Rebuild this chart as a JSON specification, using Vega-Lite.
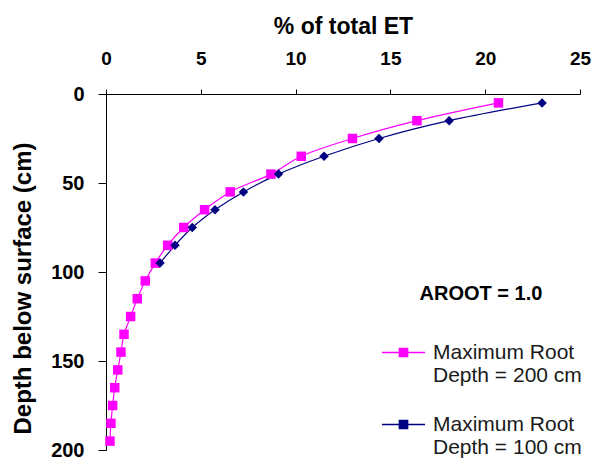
{
  "$schema": "https://vega.github.io/schema/vega-lite/v6.json",
  "width": 474,
  "height": 356,
  "autosize": {"type": "none"},
  "padding": {"left": 106, "top": 94, "right": 12, "bottom": 8},
  "background": "white",
  "config": {
    "view": {"stroke": null},
    "font": "Liberation Sans",
    "axis": {
      "domainColor": "#000000",
      "tickColor": "#000000",
      "labelColor": "#000000",
      "titleColor": "#000000",
      "grid": false,
      "labelFont": "Liberation Sans",
      "titleFont": "Liberation Sans",
      "labelFontWeight": "bold",
      "titleFontWeight": "bold"
    }
  },
  "data": {
    "values": [
      {"series": "Maximum Root\nDepth = 200 cm", "maxDepth": 200, "depth": 5, "pct": 20.7},
      {"series": "Maximum Root\nDepth = 200 cm", "maxDepth": 200, "depth": 15, "pct": 16.4},
      {"series": "Maximum Root\nDepth = 200 cm", "maxDepth": 200, "depth": 25, "pct": 13.0},
      {"series": "Maximum Root\nDepth = 200 cm", "maxDepth": 200, "depth": 35, "pct": 10.3},
      {"series": "Maximum Root\nDepth = 200 cm", "maxDepth": 200, "depth": 45, "pct": 8.7},
      {"series": "Maximum Root\nDepth = 200 cm", "maxDepth": 200, "depth": 55, "pct": 6.55},
      {"series": "Maximum Root\nDepth = 200 cm", "maxDepth": 200, "depth": 65, "pct": 5.2},
      {"series": "Maximum Root\nDepth = 200 cm", "maxDepth": 200, "depth": 75, "pct": 4.1},
      {"series": "Maximum Root\nDepth = 200 cm", "maxDepth": 200, "depth": 85, "pct": 3.25},
      {"series": "Maximum Root\nDepth = 200 cm", "maxDepth": 200, "depth": 95, "pct": 2.6},
      {"series": "Maximum Root\nDepth = 200 cm", "maxDepth": 200, "depth": 105, "pct": 2.07},
      {"series": "Maximum Root\nDepth = 200 cm", "maxDepth": 200, "depth": 115, "pct": 1.65},
      {"series": "Maximum Root\nDepth = 200 cm", "maxDepth": 200, "depth": 125, "pct": 1.3},
      {"series": "Maximum Root\nDepth = 200 cm", "maxDepth": 200, "depth": 135, "pct": 0.95},
      {"series": "Maximum Root\nDepth = 200 cm", "maxDepth": 200, "depth": 145, "pct": 0.79},
      {"series": "Maximum Root\nDepth = 200 cm", "maxDepth": 200, "depth": 155, "pct": 0.62},
      {"series": "Maximum Root\nDepth = 200 cm", "maxDepth": 200, "depth": 165, "pct": 0.46},
      {"series": "Maximum Root\nDepth = 200 cm", "maxDepth": 200, "depth": 175, "pct": 0.35},
      {"series": "Maximum Root\nDepth = 200 cm", "maxDepth": 200, "depth": 185, "pct": 0.26},
      {"series": "Maximum Root\nDepth = 200 cm", "maxDepth": 200, "depth": 195, "pct": 0.21},
      {"series": "Maximum Root\nDepth = 100 cm", "maxDepth": 100, "depth": 5, "pct": 23.0},
      {"series": "Maximum Root\nDepth = 100 cm", "maxDepth": 100, "depth": 15, "pct": 18.1},
      {"series": "Maximum Root\nDepth = 100 cm", "maxDepth": 100, "depth": 25, "pct": 14.4},
      {"series": "Maximum Root\nDepth = 100 cm", "maxDepth": 100, "depth": 35, "pct": 11.5},
      {"series": "Maximum Root\nDepth = 100 cm", "maxDepth": 100, "depth": 45, "pct": 9.1},
      {"series": "Maximum Root\nDepth = 100 cm", "maxDepth": 100, "depth": 55, "pct": 7.25},
      {"series": "Maximum Root\nDepth = 100 cm", "maxDepth": 100, "depth": 65, "pct": 5.75},
      {"series": "Maximum Root\nDepth = 100 cm", "maxDepth": 100, "depth": 75, "pct": 4.55},
      {"series": "Maximum Root\nDepth = 100 cm", "maxDepth": 100, "depth": 85, "pct": 3.64},
      {"series": "Maximum Root\nDepth = 100 cm", "maxDepth": 100, "depth": 95, "pct": 2.85}
    ]
  },
  "encoding": {
    "x": {
      "field": "pct",
      "type": "quantitative",
      "scale": {"domain": [0, 25], "nice": false},
      "axis": {
        "orient": "top",
        "title": "% of total ET",
        "titleFontSize": 23,
        "titlePadding": 11,
        "labelFontSize": 19,
        "values": [0, 5, 10, 15, 20, 25],
        "tickSize": 5,
        "labelPadding": 21,
        "labelFlush": false
      }
    },
    "y": {
      "field": "depth",
      "type": "quantitative",
      "scale": {"domain": [0, 200], "reverse": true, "nice": false},
      "axis": {
        "title": "Depth below surface (cm)",
        "titleFontSize": 24,
        "titlePadding": 15,
        "titleY": 194,
        "labelFontSize": 20,
        "values": [0, 50, 100, 150, 200],
        "tickSize": 8,
        "labelPadding": 14,
        "labelFlush": false
      }
    },
    "color": {
      "field": "series",
      "type": "nominal",
      "scale": {
        "domain": ["Maximum Root\nDepth = 200 cm", "Maximum Root\nDepth = 100 cm"],
        "range": ["#FF00FF", "#000080"]
      },
      "legend": {
        "orient": "none",
        "legendX": 275,
        "legendY": 190,
        "padding": 0,
        "title": "AROOT = 1.0",
        "titleFontSize": 20,
        "titleFontWeight": "bold",
        "titleColor": "#000000",
        "titleAnchor": "middle",
        "titlePadding": 26,
        "symbolType": "M-1,0H1M-0.195,-0.195H0.195V0.195H-0.195Z",
        "symbolSize": 1849,
        "symbolStrokeWidth": 1.3,
        "labelOffset": 7,
        "labelFontSize": 21,
        "labelColor": "#1a1a1a",
        "labelFont": "Liberation Sans",
        "labelLineHeight": 25,
        "labelBaseline": "middle",
        "labelExpr": "split(datum.label, '\\n')",
        "labelLimit": 300,
        "rowPadding": 16
      }
    }
  },
  "layer": [
    {
      "mark": {"type": "line", "interpolate": "catmull-rom", "strokeWidth": 1.2},
      "encoding": {
        "order": {"field": "depth", "type": "quantitative"}
      }
    },
    {
      "mark": {"type": "point", "filled": true, "opacity": 1, "size": 90},
      "encoding": {
        "shape": {
          "field": "maxDepth",
          "type": "nominal",
          "scale": {
            "domain": [200, 100],
            "range": ["square", "diamond"]
          },
          "legend": null
        }
      }
    }
  ]
}
